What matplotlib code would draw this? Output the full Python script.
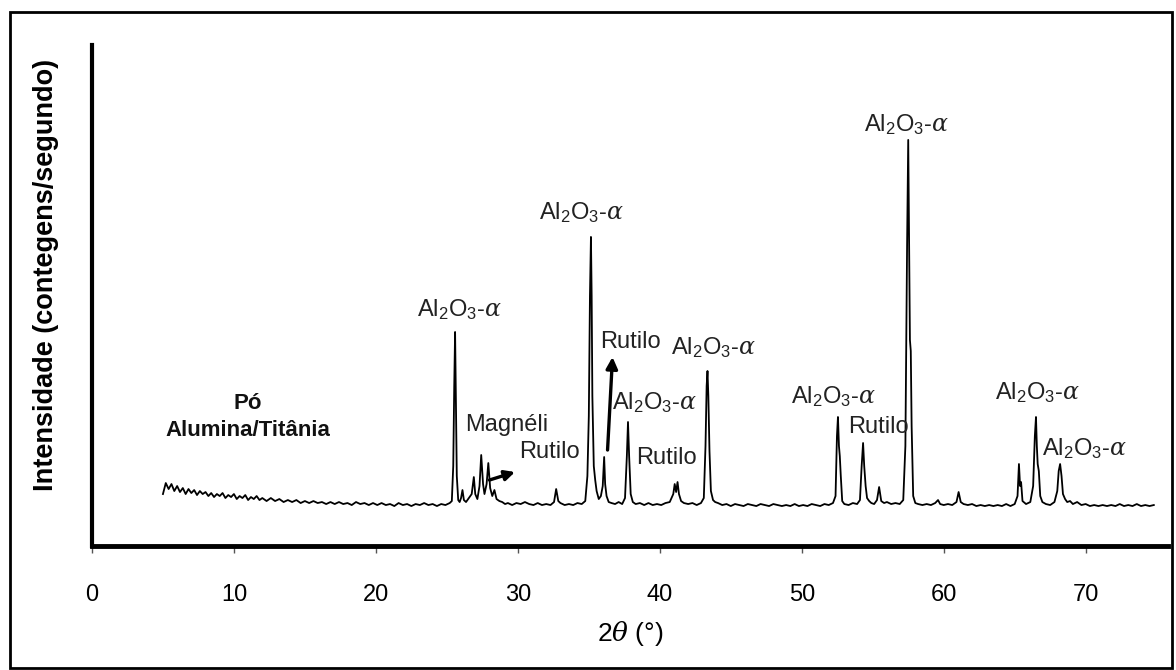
import matplotlib
matplotlib.use("Agg")
import matplotlib.pyplot as plt
from matplotlib.patches import Rectangle

plt.rcParams['font.family'] = ['Liberation Sans', 'DejaVu Sans']
plt.rcParams['mathtext.fontset'] = 'custom'
plt.rcParams['mathtext.rm'] = 'Liberation Sans'
plt.rcParams['mathtext.it'] = 'DejaVu Serif:italic'
plt.rcParams['mathtext.bf'] = 'Liberation Sans:bold'

# ---- pattern data (2theta in degrees, intensity in arbitrary counts) ----
two_theta = [
    5.0, 5.2, 5.4, 5.6, 5.8, 6.0, 6.2, 6.4, 6.6, 6.8, 7.0, 7.2, 7.4, 7.6, 7.8,
    8.0, 8.2, 8.4, 8.6, 8.8, 9.0, 9.2, 9.4, 9.6, 9.8, 10.0, 10.2, 10.4, 10.6,
    10.8, 11.0, 11.2, 11.4, 11.6, 11.8, 12.0,
    12.3, 12.6, 12.9, 13.2, 13.5, 13.8, 14.1, 14.4, 14.7, 15.0, 15.3, 15.6,
    15.9, 16.2, 16.5, 16.8, 17.1, 17.4, 17.7, 18.0, 18.3, 18.6, 18.9, 19.2,
    19.5, 19.8, 20.1, 20.4, 20.7, 21.0, 21.3, 21.6, 21.9, 22.2, 22.5, 22.8,
    23.1, 23.4, 23.7, 24.0, 24.3, 24.6, 24.9, 25.2,
    25.35, 25.45, 25.52, 25.58, 25.63, 25.7, 25.8,
    25.9, 26.0, 26.1, 26.2, 26.35, 26.5, 26.75, 26.9, 27.0, 27.15, 27.3, 27.42,
    27.55, 27.65, 27.8, 27.92, 28.05, 28.2, 28.35, 28.5, 28.7, 28.9, 29.1,
    29.3, 29.6, 29.9, 30.2, 30.5, 30.8, 31.1, 31.4, 31.7, 32.0, 32.3, 32.55,
    32.7, 32.85, 33.0, 33.3, 33.6, 33.9, 34.2, 34.5, 34.75, 34.9,
    35.0, 35.08, 35.15, 35.2, 35.25, 35.35, 35.45, 35.55, 35.7, 35.85, 35.98,
    36.08, 36.15, 36.25, 36.4, 36.6, 36.85, 37.1, 37.35, 37.55, 37.68, 37.76,
    37.84, 37.95, 38.1, 38.3, 38.6, 38.9, 39.2, 39.5, 39.8, 40.1, 40.4, 40.7,
    40.95, 41.05, 41.15, 41.25, 41.35, 41.5, 41.7, 42.0, 42.3, 42.6, 42.9,
    43.1, 43.22, 43.3, 43.36, 43.42, 43.5, 43.6, 43.75, 43.9, 44.1, 44.4,
    44.7, 45.0, 45.3, 45.6, 45.9, 46.2, 46.5, 46.8, 47.1, 47.4, 47.7, 48.0,
    48.3, 48.6, 48.9, 49.2, 49.5, 49.8, 50.1, 50.4, 50.7, 51.0, 51.3, 51.6,
    51.9, 52.2, 52.38, 52.48, 52.55, 52.62, 52.68, 52.75, 52.85, 53.0, 53.3,
    53.6, 53.9, 54.1, 54.22, 54.32, 54.4, 54.5, 54.6, 54.75, 54.9, 55.1,
    55.3, 55.45, 55.6, 55.8, 56.0, 56.3, 56.6, 56.9, 57.15, 57.3, 57.42,
    57.5, 57.56, 57.62, 57.68, 57.74, 57.85, 58.0, 58.2, 58.5, 58.8, 59.1,
    59.4, 59.6, 59.75, 60.0, 60.3, 60.6, 60.9, 61.05, 61.2, 61.4, 61.7, 62.0,
    62.3, 62.6, 62.9, 63.2, 63.5, 63.8, 64.1, 64.4, 64.7, 65.0, 65.2, 65.3,
    65.38, 65.45, 65.55, 65.8, 66.1, 66.3, 66.42, 66.5, 66.56, 66.62, 66.7,
    66.8, 66.95, 67.2, 67.5, 67.8, 68.0, 68.1, 68.2, 68.3, 68.4, 68.55, 68.7,
    68.9, 69.1, 69.4, 69.7, 70.0, 70.3, 70.6, 70.9, 71.2, 71.5, 71.8, 72.1,
    72.4, 72.7, 73.0, 73.3, 73.6, 73.9, 74.2, 74.5, 74.8,
]
intensity = [
    52, 63, 57, 62, 55, 60, 54, 58, 52, 57, 53, 56, 51, 55, 52,
    54, 50, 53, 49, 52, 50, 53, 48, 51, 49, 52, 47, 50, 48,
    51, 46, 49, 47, 50, 46, 48,
    45, 48, 45, 47, 44, 46, 44, 46, 43, 45, 43, 45,
    43, 44, 42, 44, 42, 44, 42, 43, 41, 44, 42, 43,
    41, 43, 41, 43, 41, 42, 40, 43, 41, 42, 40, 42,
    41, 43, 41, 42, 40, 42, 41, 43,
    45, 80, 160, 214, 150, 70, 46,
    44, 48, 56, 46, 44, 47, 52, 69, 52, 47, 60, 91,
    62, 52, 62, 83, 58, 50, 56, 47, 45, 44, 42,
    43, 41, 43, 42, 44, 42, 41, 43, 41, 42, 41, 44,
    57, 45, 43, 41, 42, 41, 43, 42, 45, 70,
    130, 250, 309, 250, 150, 80, 66, 55, 47, 50, 60,
    89, 62, 50, 44, 43, 42, 44, 42, 48, 90, 124,
    90, 52, 44, 42, 43, 41, 43, 41, 42, 41, 43, 44,
    52, 62, 54, 64, 52, 45, 43, 42, 43, 41, 43,
    48, 100, 160, 175, 150, 95, 55, 46, 44, 43, 41,
    42, 40, 42, 41, 40, 42, 41, 40, 42, 41, 40, 42,
    41, 40, 41, 40, 42, 40, 41, 40, 42, 41, 40, 42,
    41, 43, 50, 110, 129, 100, 90, 70, 45, 42, 41,
    43, 42, 46, 80, 103, 80, 60, 48, 45, 43, 42,
    46, 59, 45, 43, 44, 42, 43, 42, 46, 100, 300,
    406, 300, 206, 195, 120, 50, 43, 42, 41, 42, 41,
    43, 46, 42, 41, 42, 41, 44, 54, 44, 42, 41, 42,
    40, 41, 40, 41, 40, 41, 40, 42, 40, 42, 50, 82,
    60, 64, 45, 42, 44, 60, 110, 129, 100, 82, 75,
    50, 44, 42, 41, 44, 55, 75, 82, 70, 52, 47, 44,
    45, 42, 44, 41, 42, 40, 41, 40, 41, 40, 41, 40,
    42, 40, 41, 40, 42, 40, 41, 40, 41,
]

alpha_label = r"Al$_2$O$_3$-$\alpha$"
labels_text = [alpha_label, alpha_label, "Rutilo", alpha_label, "Rutilo",
               alpha_label, alpha_label, "Rutilo", alpha_label, alpha_label,
               alpha_label, "Magnéli", "Rutilo"]
labels_x = [25.9, 34.5, 37.9, 39.6, 40.5, 43.8, 52.2, 55.4, 57.4, 66.6, 69.9,
            29.2, 32.2]
labels_y = [236, 333, 204, 143, 88, 198, 149, 119, 421, 153, 97, 121, 94]

sample_lines = ["Pó", "Alumina/Titânia"]
sample_x = [11.0, 11.0]
sample_y = [143, 116]

x_ticks = [0, 10, 20, 30, 40, 50, 60, 70]

fig = plt.figure(figsize=(11.76, 6.70), dpi=100)
ax = fig.add_axes([0.0782, 0.185, 0.915, 0.748])

ax.plot(two_theta, intensity, color='black', lw=1.3)

for t, x, y in zip(labels_text, labels_x, labels_y):
    ax.text(x, y, t, ha='center', va='center', fontsize=17, color='#222222')

# arrows
ax.annotate('', xy=(36.67, 189), xytext=(36.32, 96),
            arrowprops=dict(arrowstyle='-|>', color='black', lw=2.4,
                            mutation_scale=17, shrinkA=0, shrinkB=0))
ax.annotate('', xy=(29.8, 74), xytext=(28.0, 66),
            arrowprops=dict(arrowstyle='-|>', color='black', lw=2.4,
                            mutation_scale=15, shrinkA=0, shrinkB=0))

for t, x, y in zip(sample_lines, sample_x, sample_y):
    ax.text(x, y, t, ha='center', va='center', fontsize=16,
            fontweight='bold', color='#111111')

ax.set_xlim(0, 75.8)
ax.set_ylim(0, 501)
ax.set_xticks(x_ticks)
ax.set_xticklabels([str(v) for v in x_ticks], fontsize=17)
ax.tick_params(axis='x', direction='out', length=5, width=1, pad=22,
               color='#555555')
ax.set_yticks([])
for s in ['top', 'right']:
    ax.spines[s].set_visible(False)
ax.spines['left'].set_linewidth(3)
ax.spines['bottom'].set_linewidth(3.5)

ax.set_xlabel(r"2$\theta$ (°)", fontsize=19, labelpad=10)
ax.set_ylabel("Intensidade (contegens/segundo)", fontsize=19.5,
              fontweight='bold')
ax.yaxis.set_label_coords(-0.031, 0.54)

fig.patches.append(Rectangle((10 / 1176, 2 / 670), 1162 / 1176, 656 / 670,
                             transform=fig.transFigure, fill=False,
                             edgecolor='black', lw=2))

fig.savefig("out.png", dpi=100)
